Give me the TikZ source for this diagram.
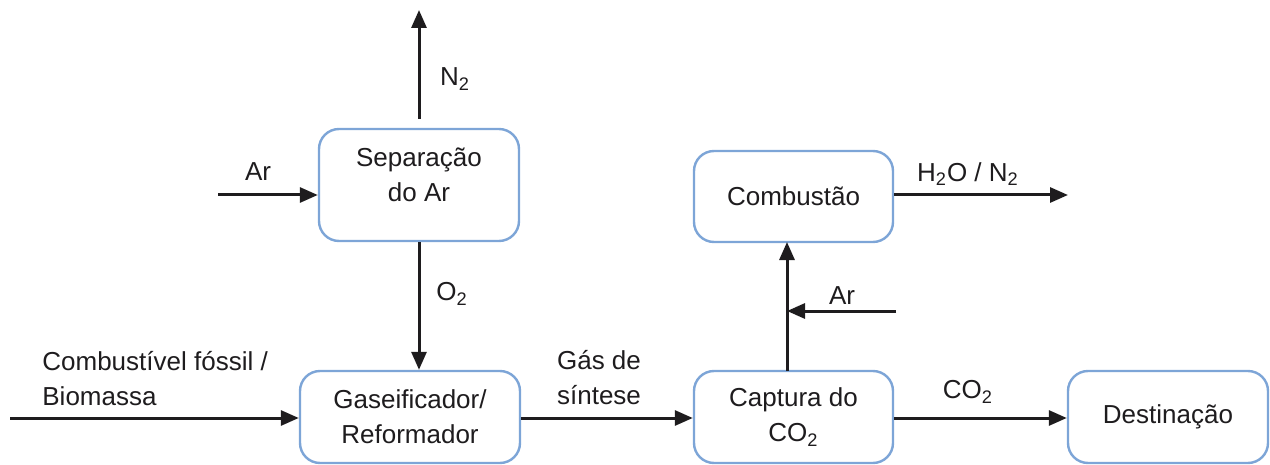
\documentclass[tikz,border=0pt]{standalone}
\usepackage{fontspec}
\setmainfont{Liberation Sans}
\usetikzlibrary{arrows.meta}
\definecolor{boxblue}{RGB}{125,165,215}
\definecolor{ink}{RGB}{30,28,30}
\tikzset{
  proc/.style={draw=boxblue, line width=1.2pt, rounded corners=10pt, fill=white,
    align=center, inner sep=0pt, text=ink},
  flow/.style={draw=ink, line width=1.5pt, -{Triangle[length=9pt,width=7.5pt]}},
  lbl/.style={inner sep=0pt, text=ink, align=center},
}
\begin{document}
\begin{tikzpicture}[x=0.5pt,y=-0.5pt, font=\fontsize{13}{17.5}\selectfont]
\useasboundingbox (0,0) rectangle (1270,465);
% boxes
\node[proc, minimum width=100pt, minimum height=56pt, text depth=10pt] (sep) at (419,185) {Separação\\do Ar};
\node[proc, minimum width=99.5pt, minimum height=45.5pt] (comb) at (793.5,196.5) {Combustão};
\node[proc, minimum width=110pt, minimum height=46pt] (gas) at (410,417) {Gaseificador/\\Reformador};
\node[proc, minimum width=99.5pt, minimum height=46pt] (cap) at (793.5,417) {Captura do\\CO\textsubscript{2}};
\node[proc, minimum width=100pt, minimum height=46pt] (dest) at (1168,417) {Destinação};
% free ends
\coordinate (n2start) at (419,119);
\coordinate (n2end) at (419,10);
\coordinate (arin) at (218,195);
\coordinate (fuelin) at (10,418);
\coordinate (h2oend) at (1068,195);
\coordinate (ar2in) at (896,311);
\coordinate (capup) at (787,371);
\coordinate (combdown) at (787,242);
\coordinate (ar2end) at (787,311);
% connectors
\draw[flow] (n2start) -- (n2end);
\draw[flow] (arin) -- (arin -| sep.west);
\draw[flow] (sep.south) -- (sep.south |- gas.north);
\draw[flow] (fuelin) -- (fuelin -| gas.west);
\draw[flow] (gas.east |- fuelin) -- (cap.west |- fuelin);
\draw[flow] (cap.east |- fuelin) -- (dest.west |- fuelin);
\draw[flow] (capup) -- (combdown);
\draw[flow] (ar2in) -- (ar2end);
\draw[flow] (comb.east |- h2oend) -- (h2oend);
% labels
\node[lbl] (ln2) at (455,79) {N\textsubscript{2}};
\node[lbl] (lar) at (258,172) {Ar};
\node[lbl] (lo2) at (452,294) {O\textsubscript{2}};
\node[lbl, anchor=west, align=left] (lfuel) at (42,379) {Combustível fóssil /\\Biomassa};
\node[lbl] (lsyn) at (599,378) {Gás de\\síntese};
\node[lbl] (lco2) at (968,392) {CO\textsubscript{2}};
\node[lbl] (lh2o) at (968,174) {H\textsubscript{2}O / N\textsubscript{2}};
\node[lbl] (lar2) at (842,296) {Ar};
\end{tikzpicture}
\end{document}
